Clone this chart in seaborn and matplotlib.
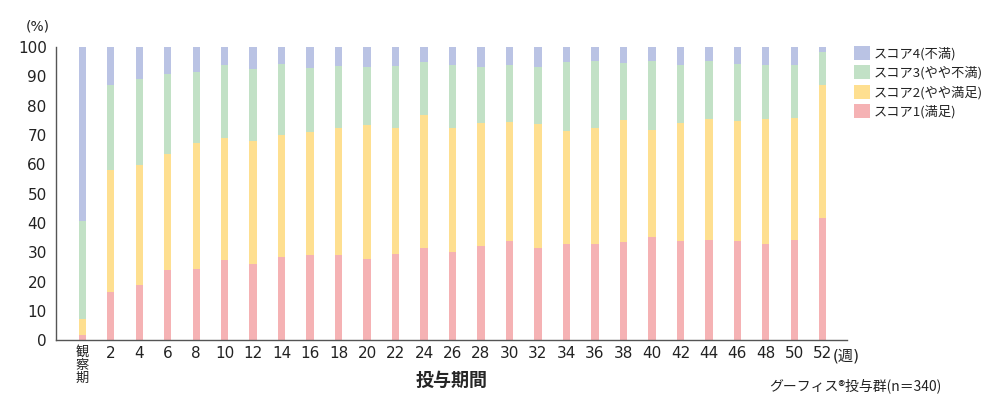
import numpy as np
import pandas as pd
import matplotlib
matplotlib.use("Agg")
import matplotlib.pyplot as plt
import seaborn as sns
from matplotlib.patches import Patch

# data (% of patients per score, each period)
periods = ["観\n察\n期", "2", "4", "6", "8", "10", "12", "14", "16", "18", "20", "22", "24",
           "26", "28", "30", "32", "34", "36", "38", "40", "42", "44", "46", "48", "50", "52"]
score1 = [1.8, 16.5, 18.8, 24.0, 24.3, 27.5, 26.1, 28.5, 29.2, 29.1, 27.7, 29.5, 31.6,
          30.2, 32.1, 33.8, 31.6, 32.9, 32.9, 33.5, 35.2, 33.9, 34.3, 33.9, 32.9, 34.3, 41.8]
score2 = [5.4, 41.7, 41.1, 39.6, 43.0, 41.4, 41.8, 41.4, 41.9, 43.3, 45.6, 42.9, 45.1,
          42.2, 41.8, 40.5, 42.2, 38.4, 39.4, 41.4, 36.4, 40.2, 41.2, 40.8, 42.6, 41.5, 45.1]
score3 = [33.4, 28.9, 29.0, 27.3, 24.1, 24.9, 24.7, 24.4, 21.6, 21.0, 19.7, 21.0, 18.1,
          21.4, 19.1, 19.5, 19.2, 23.5, 22.7, 19.7, 23.4, 19.7, 19.5, 19.3, 18.3, 18.0, 11.4]
score4 = [59.4, 12.9, 11.1, 9.1, 8.6, 6.2, 7.4, 5.7, 7.3, 6.6, 7.0, 6.6, 5.2,
          6.2, 7.0, 6.2, 7.0, 5.2, 5.0, 5.4, 5.0, 6.2, 5.0, 6.0, 6.2, 6.2, 1.7]

labels = ["スコア4(不満)", "スコア3(やや不満)", "スコア2(やや満足)", "スコア1(満足)"]
colors = ["#BAC3E4", "#C2E1C6", "#FEDF90", "#F5B2B4"]

df = pd.DataFrame({"period": periods, "s1": score1, "s2": score2, "s3": score3, "s4": score4})
# cumulative tops, drawn from tallest to shortest so they stack visually
df["c1"] = df["s1"]
df["c2"] = df["c1"] + df["s2"]
df["c3"] = df["c2"] + df["s3"]
df["c4"] = df["c3"] + df["s4"]

sns.set_style("white")
plt.rcParams["font.family"] = ["DejaVu Sans", "Noto Sans CJK JP"]
jp = ["Noto Sans CJK JP", "DejaVu Sans"]

fig = plt.figure(figsize=(10.01, 4.0), dpi=100)
ax = fig.add_axes([0.0564, 0.149, 0.7896, 0.734])

for col, c in zip(["c4", "c3", "c2", "c1"], colors):
    sns.barplot(data=df, x="period", y=col, color=c, width=0.25, saturation=1,
                order=periods, ax=ax, edgecolor="none")

ax.set_ylim(0, 100)
ax.set_xlim(-0.9, 26.84)
ax.set_yticks(np.arange(0, 101, 10))
ax.tick_params(axis="y", direction="inout", length=6, width=1.2, color="#cccccc",
               labelsize=11, labelcolor="#222222", pad=4)
ax.tick_params(axis="x", length=0, labelsize=11, labelcolor="#222222", pad=4)
first = ax.get_xticklabels()[0]
first.set_fontsize(9.5)
first.set_family(jp)
first.set_linespacing(1.0)
first.set_verticalalignment("top")

for s in ["top", "right"]:
    ax.spines[s].set_visible(False)
for s in ["left", "bottom"]:
    ax.spines[s].set_color("#555555")
    ax.spines[s].set_linewidth(1.0)

ax.set_ylabel("")
ax.set_xlabel("投与期間", fontsize=13, fontweight="bold", family=jp)
ax.xaxis.set_label_coords(0.5, -0.135)
ax.xaxis.label.set_verticalalignment("center")

fig.text(0.026, 0.935, "(%)", fontsize=10, color="#222222", va="center")
fig.text(0.8315, 0.1095, "(週)", fontsize=11, color="#222222", va="center", ha="left")
fig.text(0.94, 0.035, "グーフィス®投与群(n＝340)", fontsize=10, color="#222222",
         ha="right", va="center", family=jp)

handles = [Patch(facecolor=c, edgecolor="none", label=l) for c, l in zip(colors, labels)]
leg = fig.legend(handles=handles, loc="upper left", bbox_to_anchor=(0.853, 0.885), frameon=False,
                 fontsize=9.5, handlelength=1.2, handleheight=1.2, handletextpad=0.3,
                 labelspacing=0.4, borderpad=0, borderaxespad=0)
for t in leg.get_texts():
    t.set_family(jp)
    t.set_color("#222222")

fig.savefig("out.png", dpi=100)
